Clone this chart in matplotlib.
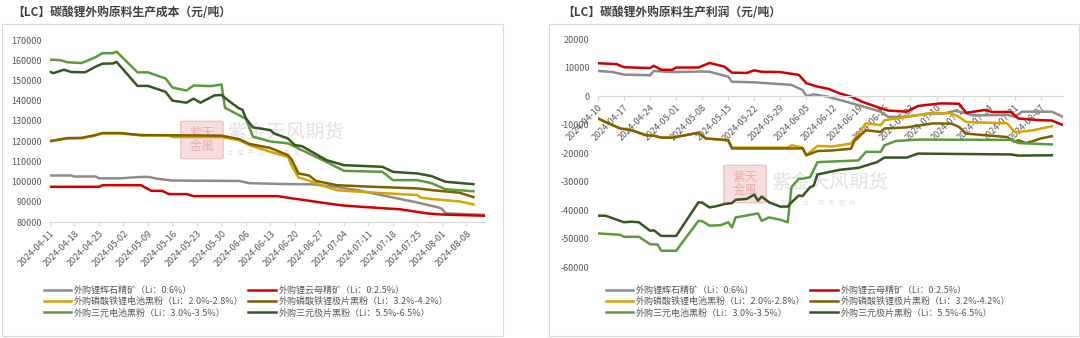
import numpy as np
import pandas as pd
import matplotlib
matplotlib.use('Agg')
import matplotlib.pyplot as plt
import matplotlib.dates as mdates
from matplotlib.patches import Rectangle, FancyBboxPatch

plt.rcParams['font.family'] = ['Noto Sans CJK SC', 'DejaVu Sans']
plt.rcParams['axes.unicode_minus'] = False

W, H = 1080, 338

# series labels and colours
labels = ['外购锂辉石精矿（Li：0:6%）', '外购锂云母精矿（Li：0:2.5%）',
          '外购磷酸铁锂电池黑粉（Li：2.0%-2.8%）', '外购磷酸铁锂极片黑粉（Li：3.2%-4.2%）',
          '外购三元电池黑粉（Li：3.0%-3.5%）', '外购三元极片黑粉（Li：5.5%-6.5%）']
colors = ['#8c8c8c', '#d00000', '#d9a300', '#7f6000', '#5b9b3c', '#375623']

# ---- cost chart (days after 2024-04-11, yuan/t) ----
cost_start = '2024-04-11'
cost_gray = [(0, 103000), (6, 103000), (7, 102500), (13, 102500), (14, 101600), (20, 101600),
             (26, 102300), (28, 102300), (31, 101300), (35, 100500), (54, 100300), (57, 99200),
             (66, 98800), (75, 98600), (82, 97300), (88, 95700), (98, 92100), (104, 90000),
             (111, 87200), (112, 86500), (113, 84300), (124, 83500)]
cost_red = [(0, 97400), (14, 97400), (15, 98200), (26, 98200), (29, 95400), (32, 95400),
            (34, 93800), (39, 93800), (41, 92800), (65, 92800), (68, 92000), (76, 90000),
            (83, 88300), (89, 87500), (100, 86300), (108, 84200), (112, 83700), (124, 83100)]
cost_gold = [(0, 120000), (5, 121300), (9, 121400), (13, 122800), (15, 123800), (20, 123800),
             (26, 122800), (34, 122800), (35, 122000), (49, 122000), (54, 120500), (57, 118000),
             (63, 114700), (68, 112200), (69, 108000), (71, 102000), (74, 100500), (76, 99000),
             (82, 95700), (91, 94700), (105, 93300), (106, 92000), (110, 91200), (117, 90200),
             (121, 88700)]
cost_olive = [(0, 120000), (5, 121500), (9, 121600), (13, 123000), (15, 124000), (20, 124000),
              (26, 123000), (49, 122700), (54, 121000), (57, 118600), (63, 116600), (68, 113000),
              (69, 111000), (71, 104000), (74, 103000), (76, 100300), (82, 98200), (91, 97500),
              (105, 96600), (110, 95600), (117, 94500), (121, 92300)]
cost_green = [(0, 160300), (3, 160000), (5, 159000), (9, 158600), (11, 160000), (13, 161500),
              (15, 163500), (18, 163500), (19, 164300), (25, 154000), (28, 154000), (33, 151000),
              (35, 146500), (39, 145000), (41, 147500), (46, 147200), (49, 148000), (50, 136500),
              (56, 131000), (58, 122200), (63, 119800), (68, 118900), (72, 115500), (79, 109700),
              (84, 105300), (95, 104800), (98, 100700), (105, 100700), (109, 99200), (113, 96200),
              (121, 95200)]
cost_dkgreen = [(0, 154300), (1, 153600), (4, 155300), (6, 154200), (10, 154000), (13, 156800),
                (15, 158300), (18, 158400), (19, 159200), (25, 147300), (28, 147300), (33, 144400),
                (35, 140000), (39, 139000), (41, 141000), (43, 139000), (47, 142600), (49, 142800),
                (51, 140000), (54, 136200), (55, 135500), (56, 131200), (58, 126800), (63, 125400),
                (64, 123800), (68, 121300), (70, 118000), (72, 117500), (79, 110600), (84, 108100),
                (95, 107300), (98, 104800), (105, 104000), (109, 102700), (113, 99900), (121, 98700)]

# ---- profit chart (days after 2024-04-10, yuan/t) ----
prof_start = '2024-04-10'
prof_gray = [(0, 8900), (4, 8500), (7, 7600), (14, 7400), (15, 8900), (20, 8500), (28, 8700),
             (30, 8600), (35, 6900), (36, 5100), (42, 4900), (52, 4000), (55, 2200), (56, 100),
             (58, 700), (62, -200), (65, -1300), (70, -3100), (76, -5400), (78, -7200), (83, -7200),
             (89, -6000), (93, -6000), (96, -5100), (99, -6000), (101, -6700), (110, -6500),
             (112, -7200), (114, -5400), (122, -5400), (125, -7200)]
prof_red = [(0, 11600), (5, 11300), (7, 10200), (14, 9900), (15, 10700), (17, 9300), (20, 9300),
            (21, 10100), (27, 10100), (30, 11700), (34, 10400), (36, 8300), (40, 8200), (42, 9100),
            (44, 8600), (49, 8500), (54, 7500), (56, 4600), (59, 3400), (62, 2600), (65, 1000),
            (68, -100), (71, -1900), (76, -4200), (78, -5000), (83, -5400), (86, -3400),
            (92, -2500), (97, -2600), (99, -5800), (104, -4800), (106, -5500), (111, -5500),
            (113, -7800), (119, -8400), (122, -8500), (125, -10100)]
prof_gold = [(0, -7800), (2, -9000), (6, -11300), (9, -11900), (13, -13700), (15, -13800),
             (17, -14500), (20, -14500), (27, -12800), (29, -14800), (35, -15400), (36, -18000),
             (51, -18000), (52, -17200), (55, -18000), (56, -20700), (59, -17400), (63, -17600),
             (68, -16600), (72, -9500), (76, -10100), (77, -8400), (83, -7200), (87, -6400),
             (90, -5800), (95, -6000), (97, -7200), (99, -9000), (110, -9500), (112, -12500),
             (113, -12500), (117, -11900), (122, -10500)]
prof_olive = [(0, -7800), (2, -9000), (6, -11300), (9, -11900), (13, -13700), (15, -13800),
              (17, -14500), (20, -14500), (27, -12800), (29, -14800), (35, -15400), (36, -18300),
              (55, -18300), (56, -20700), (59, -19200), (63, -19000), (68, -18400), (69, -15400),
              (72, -11900), (76, -12500), (77, -11300), (83, -10900), (87, -10100), (90, -9500),
              (95, -9600), (97, -10700), (99, -13100), (110, -14300), (112, -16000), (113, -15400),
              (115, -16400), (117, -15700), (119, -14800), (122, -14000)]
prof_green = [(0, -48100), (6, -48600), (7, -49300), (11, -49300), (14, -51900), (16, -52000),
              (17, -54200), (21, -54200), (27, -43700), (28, -43800), (30, -45400), (33, -45200),
              (35, -44200), (36, -46000), (37, -42500), (43, -41100), (44, -43700), (46, -42500),
              (49, -43300), (51, -44200), (52, -31900), (54, -28900), (55, -28900), (57, -28400),
              (59, -23100), (70, -22500), (72, -19500), (76, -19500), (77, -17200), (80, -15700),
              (86, -15200), (111, -15300), (113, -16400), (122, -16900)]
prof_dkgreen = [(0, -41900), (2, -41900), (7, -44200), (9, -44000), (11, -44200), (14, -47200),
                (15, -47000), (17, -49000), (21, -49000), (27, -37200), (28, -37300), (30, -39000),
                (32, -38500), (34, -37800), (36, -37500), (37, -36300), (40, -36000), (42, -34500),
                (43, -36600), (44, -35200), (46, -37200), (49, -38700), (51, -38700), (52, -37200),
                (54, -34800), (55, -35000), (57, -31900), (58, -31300), (59, -27400), (65, -25800),
                (70, -25100), (75, -23100), (77, -21500), (83, -21500), (86, -20100), (111, -20400),
                (113, -20800), (122, -20700)]


def px(x, y):
    return x / W, 1 - y / H


def to_xy(start, pts):
    arr = np.array(pts, dtype=float)
    dates = pd.Timestamp(start) + pd.to_timedelta(arr[:, 0], unit='D')
    return dates, arr[:, 1]


fig = plt.figure(figsize=(W / 100, H / 100), dpi=100)

# panel frames
for x0, x1 in [(2, 503), (549, 1079)]:
    fig.patches.append(Rectangle(px(x0, 336), (x1 - x0) / W, 312 / H, transform=fig.transFigure,
                                 fill=False, ec='#d9d9d9', lw=0.8, zorder=-5))

fig.text(*px(12, 12), '【LC】碳酸锂外购原料生产成本（元/吨）', fontsize=8.5, fontweight='bold',
         color='#404040', va='center')
fig.text(*px(562, 12), '【LC】碳酸锂外购原料生产利润（元/吨）', fontsize=8.5, fontweight='bold',
         color='#404040', va='center')


def watermark(sx, sy, tx, ty):
    fig.patches.append(FancyBboxPatch(px(sx, sy + 36), 38 / W, 36 / H, transform=fig.transFigure,
                                      boxstyle='round,pad=0.002', fc='#f7dede', ec='#efc4c4',
                                      lw=1, zorder=-4))
    fig.text(*px(sx + 19, sy + 18), '紫天\n金風', fontsize=9, color='#e9b0b0', ha='center',
             va='center', linespacing=1.0, zorder=-3)
    fig.text(*px(tx, ty), '紫金天风期货', fontsize=14, color='#e3e3e3', va='center', zorder=-3)
    fig.text(*px(tx, ty + 20), '立   足   产   业       研   究   驱   动', fontsize=4.5,
             color='#e3e3e3', va='center', zorder=-3)


watermark(183, 122, 227, 133)
watermark(726, 166, 771, 183)

cost_series = [cost_gray, cost_red, cost_gold, cost_olive, cost_green, cost_dkgreen]
prof_series = [prof_gray, prof_red, prof_gold, prof_olive, prof_green, prof_dkgreen]

# ---- left chart ----
l0, b0 = px(50, 222)
l1, b1 = px(485, 40)
ax1 = fig.add_axes([l0, b0, l1 - l0, b1 - b0])
ax1.set_facecolor('none')
for pts, c in zip(cost_series, colors):
    d, v = to_xy(cost_start, pts)
    ax1.plot(d, v, color=c, lw=1.8, solid_joinstyle='round')
ax1.set_ylim(80000, 170000)
ax1.set_yticks(np.arange(80000, 170001, 10000))
ax1.set_xlim(pd.Timestamp(cost_start), pd.Timestamp(cost_start) + pd.Timedelta(days=124.3))
ax1.set_xticks(pd.date_range(cost_start, periods=18, freq='7D'))

# ---- right chart ----
r0, rb0 = px(598, 267.3)
r1, rb1 = px(1063, 39.3)
ax2 = fig.add_axes([r0, rb0, r1 - r0, rb1 - rb0])
ax2.set_facecolor('none')
handles = []
for pts, c, lab in zip(prof_series, colors, labels):
    d, v = to_xy(prof_start, pts)
    h, = ax2.plot(d, v, color=c, lw=1.8, solid_joinstyle='round', label=lab)
    handles.append(h)
ax2.set_ylim(-60000, 20000)
ax2.set_yticks(np.arange(-60000, 20001, 10000))
ax2.set_xlim(pd.Timestamp(prof_start), pd.Timestamp(prof_start) + pd.Timedelta(days=125))
ax2.set_xticks(pd.date_range(prof_start, periods=18, freq='7D'))
ax2.spines['bottom'].set_position(('data', 0))

for ax in (ax1, ax2):
    for s in ('top', 'right', 'left'):
        ax.spines[s].set_visible(False)
    ax.spines['bottom'].set_color('#d9d9d9')
    ax.xaxis.set_major_formatter(mdates.DateFormatter('%Y-%m-%d'))
    ax.tick_params(axis='y', length=0, pad=6, labelsize=6.5, labelcolor='#595959')
    ax.tick_params(axis='x', length=3, color='#d9d9d9', pad=2, labelsize=6.5, labelcolor='#595959')
    for t in ax.get_xticklabels():
        t.set_rotation(45)
        t.set_ha('right')
        t.set_va('top')
        t.set_rotation_mode('anchor')

# legends: column order gray, gold, green | red, olive, dark green
order = [0, 2, 4, 1, 3, 5]
for anchor in [px(40, 282), px(602, 282)]:
    fig.legend([handles[i] for i in order], [labels[i] for i in order], loc='upper left',
               bbox_to_anchor=anchor, ncol=2, frameon=False, fontsize=6.5, handlelength=3.0,
               handletextpad=0.3, columnspacing=0.6, labelspacing=0.25, borderaxespad=0,
               labelcolor='#595959')

fig.savefig('out.png', dpi=100)
